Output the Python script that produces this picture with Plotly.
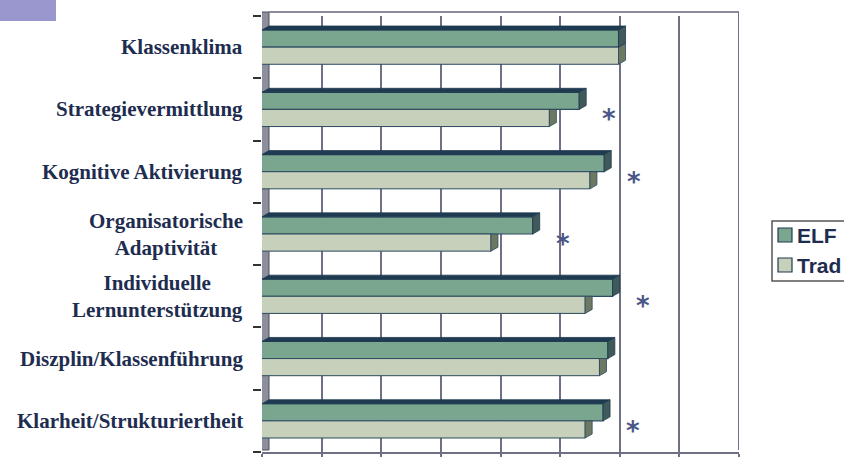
import plotly.graph_objects as go

# ---------------- data ----------------
categories = [
    "Klassenklima",
    "Strategievermittlung",
    "Kognitive Aktivierung",
    "Organisatorische<br>Adaptivität",
    "Individuelle<br>Lernunterstützung",
    "Diszplin/Klassenführung",
    "Klarheit/Strukturiertheit",
]
elf = [3.99, 3.66, 3.87, 3.27, 3.94, 3.90, 3.86]
trad = [3.99, 3.41, 3.75, 2.92, 3.71, 3.83, 3.71]
significant = [False, True, True, True, True, False, True]
series_names = ["ELF", "Trad"]
x_min, x_max, x_step = 1.0, 5.0, 0.5

# ---------------- layout geometry ----------------
W, H = 844, 457
ML, MR, MT, MB = 262, 105, 16, 5
PW, PH = W - ML - MR, H - MT - MB

def px_x(p):
    return (p - ML) / PW

def px_y(p):
    return 1 - (p - MT) / PH

n = len(categories)
pos = list(range(n))
half = 0.275             # bar thickness in category units
dx = 7 * (x_max - x_min) / PW   # 3D depth, horizontal
dy = 4 * n / PH                 # 3D depth, vertical

ELF_COL = "#7aa58e"
TRAD_COL = "#c7d0ba"
NAVY = "#1f3b52"
series_cols = [ELF_COL, TRAD_COL]

fig = go.Figure()
fig.add_trace(go.Bar(
    y=pos, x=elf, orientation="h", name=series_names[0],
    marker=dict(color=ELF_COL, line=dict(color="#2c4a60", width=1.2)),
    hoverinfo="skip", showlegend=False,
))
fig.add_trace(go.Bar(
    y=pos, x=trad, orientation="h", name=series_names[1],
    marker=dict(color=TRAD_COL, line=dict(color="#2c4a60", width=1)),
    hoverinfo="skip", showlegend=False,
))

# 3D faces computed from the data
tx, ty = [], []
for i, (e, t) in enumerate(zip(elf, trad)):
    if e > t + dx:
        tx += [t, t, t + dx, t + dx, t, None]
        ty += [i, i + half, i + half - dy, i, i, None]
    else:
        tx += [t, t, t + dx, t + dx, t, None]
        ty += [i, i + half, i + half - dy, i - dy, i, None]
fig.add_trace(go.Scatter(x=tx, y=ty, mode="lines", fill="toself",
                         fillcolor="#6d7862", line=dict(color="#2c4a60", width=0.8),
                         showlegend=False, hoverinfo="skip"))

sx, sy, topx, topy = [], [], [], []
for i, e in enumerate(elf):
    sx += [e, e, e + dx, e + dx, e, None]
    sy += [i - half, i, i - dy, i - half - dy, i - half, None]
    topx += [x_min, e, e + dx, x_min + dx, x_min, None]
    topy += [i - half, i - half, i - half - dy, i - half - dy, i - half, None]
fig.add_trace(go.Scatter(x=topx, y=topy, mode="lines", fill="toself",
                         fillcolor=NAVY, line=dict(color=NAVY, width=0.8),
                         showlegend=False, hoverinfo="skip"))
fig.add_trace(go.Scatter(x=sx, y=sy, mode="lines", fill="toself",
                         fillcolor="#3f5a58", line=dict(color=NAVY, width=0.8),
                         showlegend=False, hoverinfo="skip"))

# category labels
ann = []
for i, c in enumerate(categories):
    ann.append(dict(x=x_min, y=i, xref="x", yref="y", text="<b>" + c + "</b>",
                    showarrow=False, xanchor="right", yanchor="middle",
                    align="center", xshift=-17,
                    font=dict(family="Liberation Serif", size=21, color="#1e2d4f")))
# significance asterisks
for i, s in enumerate(significant):
    if s:
        ann.append(dict(x=max(elf[i], trad[i]), y=i, xref="x", yref="y", text="<b>*</b>",
                        showarrow=False, xanchor="center", yanchor="middle",
                        xshift=30, yshift=-10,
                        font=dict(family="DejaVu Sans", size=26, color="#4a5788")))

shapes = [
    # left wall
    dict(type="rect", xref="x", yref="paper", x0=x_min - 0.035, x1=x_min + dx,
         y0=px_y(450), y1=px_y(12), fillcolor="#8d909c",
         line=dict(color="#4a4d60", width=1), layer="between"),
    # back wall top edge
    dict(type="line", xref="x", yref="paper", x0=x_min + dx, x1=x_max,
         y0=px_y(12), y1=px_y(12), line=dict(color="#8a8c9a", width=2)),
    # right edge
    dict(type="line", xref="x", yref="paper", x0=x_max, x1=x_max,
         y0=px_y(450), y1=px_y(12), line=dict(color="#6e7186", width=2)),
    # decorative slide rectangle
    dict(type="rect", xref="paper", yref="paper", x0=px_x(0), x1=px_x(56),
         y0=px_y(21), y1=px_y(0), fillcolor="#9a97cf", line=dict(width=0)),
    # legend box
    dict(type="rect", xref="paper", yref="paper", x0=px_x(772), x1=px_x(900),
         y0=px_y(281), y1=px_y(221), fillcolor="white",
         line=dict(color="#555555", width=1.5)),
]

# custom legend entries (symbols + text)
for k, (name, col) in enumerate(zip(series_names, series_cols)):
    cy = 235 + 30 * k
    shapes.append(dict(type="rect", xref="paper", yref="paper",
                       x0=px_x(778), x1=px_x(792), y0=px_y(cy + 7), y1=px_y(cy - 7),
                       fillcolor=col, line=dict(color=NAVY, width=1.2)))
    ann.append(dict(x=px_x(795), y=px_y(cy), xref="paper", yref="paper",
                    text="<b>" + name + "</b>", showarrow=False,
                    xanchor="left", yanchor="middle",
                    font=dict(family="Liberation Sans", size=21, color="#1e2d4f")))

xt = []
v = x_min
while v <= x_max + 1e-9:
    xt.append(v)
    v += x_step

fig.update_layout(
    width=W, height=H,
    margin=dict(l=ML, r=MR, t=MT, b=MB, autoexpand=False),
    paper_bgcolor="white", plot_bgcolor="white",
    barmode="group", bargap=0.45, bargroupgap=0,
    annotations=ann, shapes=shapes,
    showlegend=False,
)
fig.update_xaxes(range=[x_min, x_max], tickvals=xt, showticklabels=False,
                 showgrid=True, gridcolor="#6e7186", gridwidth=2,
                 showline=True, linecolor="#6e7186", linewidth=2,
                 ticks="outside", ticklen=6, tickcolor="#6e7186", tickwidth=1.5,
                 zeroline=False, fixedrange=True)
fig.update_yaxes(range=[n - 0.5, -0.5], tickvals=[p - 0.5 for p in pos] + [n - 0.5],
                 showticklabels=False, ticks="outside", ticklen=8,
                 tickcolor="#333333", tickwidth=1.5, showgrid=False,
                 showline=False, zeroline=False, fixedrange=True)

fig.write_html("out.html")
